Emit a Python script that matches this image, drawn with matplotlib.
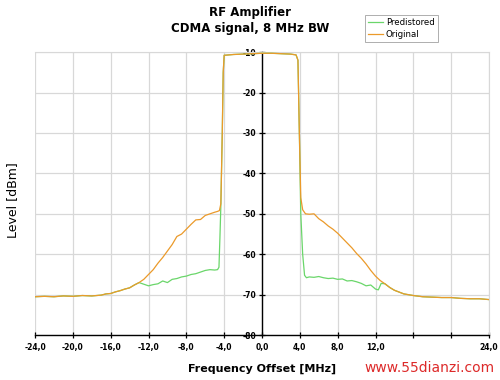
import matplotlib
matplotlib.use("Agg")
import matplotlib.pyplot as plt

plt.rcParams["axes.unicode_minus"] = False

# frequency offset [MHz] / level [dBm]
orig_f = [-24.0, -23.0, -22.0, -21.0, -20.0, -19.0, -18.0, -17.0, -16.5, -16.0,
          -15.5, -15.0, -14.5, -14.0, -13.5, -13.0, -12.5, -12.0, -11.5, -11.0,
          -10.5, -10.0, -9.5, -9.0, -8.5, -8.0, -7.5, -7.0, -6.5, -6.0,
          -5.5, -5.0, -4.7, -4.5, -4.35, -4.2, -4.1, -4.0, -3.0, -2.0,
          -1.0, 0.0, 1.0, 2.0, 3.0, 3.6, 3.8, 3.95, 4.1, 4.3,
          4.6, 5.0, 5.5, 6.0, 6.5, 7.0, 7.5, 8.0, 8.5, 9.0,
          9.5, 10.0, 10.5, 11.0, 11.5, 12.0, 12.5, 13.0, 13.5, 14.0,
          15.0, 16.0, 17.0, 18.0, 19.0, 20.0, 21.0, 22.0, 23.0, 24.0]
orig_db = [-70.5, -70.4, -70.5, -70.3, -70.4, -70.2, -70.3, -70.1, -69.8, -69.7,
           -69.3, -69.0, -68.6, -68.3, -67.6, -67.0, -66.2, -65.0, -63.8, -62.2,
           -60.8, -59.2, -57.6, -55.6, -55.0, -53.8, -52.6, -51.5, -51.4, -50.4,
           -50.0, -49.6, -49.4, -49.2, -47.5, -30.0, -15.0, -10.8, -10.6, -10.5,
           -10.4, -10.3, -10.3, -10.4, -10.5, -10.7, -12.0, -30.0, -46.0, -49.0,
           -50.0, -50.1, -50.0, -51.2, -52.0, -53.0, -53.8, -54.8, -56.0, -57.2,
           -58.4, -59.8, -61.0, -62.4, -64.0, -65.4, -66.5, -67.3, -68.2, -68.9,
           -69.8, -70.2, -70.5, -70.6, -70.7, -70.7, -70.9, -71.0, -71.0, -71.2]

pred_f = [-24.0, -23.0, -22.0, -21.0, -20.0, -19.0, -18.0, -17.0, -16.5, -16.0,
          -15.5, -15.0, -14.5, -14.0, -13.5, -13.0, -12.5, -12.0, -11.5, -11.0,
          -10.5, -10.0, -9.5, -9.0, -8.5, -8.0, -7.5, -7.0, -6.5, -6.0,
          -5.5, -5.0, -4.7, -4.55, -4.45, -4.35, -4.2, -4.1, -4.0, -3.0,
          -2.0, -1.0, 0.0, 1.0, 2.0, 3.0, 3.6, 3.8, 3.95, 4.1,
          4.3, 4.5, 4.7, 5.0, 5.5, 6.0, 6.5, 7.0, 7.5, 8.0,
          8.5, 9.0, 9.5, 10.0, 10.5, 11.0, 11.5, 12.0, 12.3, 12.6,
          13.0, 13.5, 14.0, 15.0, 16.0, 17.0, 18.0, 19.0, 20.0, 21.0,
          22.0, 23.0, 24.0]
pred_db = [-70.5, -70.4, -70.5, -70.3, -70.4, -70.2, -70.3, -70.1, -69.8, -69.7,
           -69.3, -69.0, -68.6, -68.3, -67.6, -67.0, -67.4, -67.8, -67.5, -67.3,
           -66.6, -67.0, -66.2, -66.0, -65.6, -65.4, -65.0, -64.8, -64.4, -64.0,
           -63.8, -63.9, -63.8, -63.2, -56.0, -48.0, -30.0, -15.0, -10.8, -10.6,
           -10.5, -10.4, -10.3, -10.3, -10.4, -10.5, -10.7, -12.0, -30.0, -50.0,
           -60.0, -65.2, -65.8, -65.6, -65.7, -65.5, -65.8, -66.0, -65.9, -66.2,
           -66.1, -66.6, -66.5, -66.8, -67.2, -67.8, -67.6, -68.6, -68.8, -67.2,
           -67.3, -68.2, -68.9, -69.8, -70.2, -70.5, -70.6, -70.7, -70.7, -70.9,
           -71.0, -71.0, -71.2]

x_ticks = [-24, -20, -16, -12, -8, -4, 0, 4, 8, 12, 16, 20, 24]
x_labels = ["-24,0", "-20,0", "-16,0", "-12,0", "-8,0", "-4,0", "0,0",
            "4,0", "8,0", "12,0", "", "", "24,0"]
y_ticks = [-80, -70, -60, -50, -40, -30, -20, -10]

fig = plt.figure(figsize=(5, 3.8), dpi=100)
ax = fig.add_axes([0.07, 0.118, 0.908, 0.745])

ax.plot(pred_f, pred_db, color="#6ad66a", lw=0.9, label="Predistored", zorder=3)
ax.plot(orig_f, orig_db, color="#eb9a2a", lw=0.9, label="Original", zorder=4)

ax.set_xlim(-24, 24)
ax.set_ylim(-80, -10)
ax.set_xticks(x_ticks)
ax.set_xticklabels(x_labels)
ax.set_yticks(y_ticks)
ax.grid(True, color="#d8d8d8", lw=0.9)
ax.set_axisbelow(True)

# y axis runs through 0 MHz
ax.spines["left"].set_position(("data", 0))
ax.spines["left"].set_linewidth(1.0)
ax.spines["bottom"].set_linewidth(1.0)
for s in ("top", "right"):
    ax.spines[s].set_color("#d8d8d8")
ax.tick_params(axis="both", direction="inout", length=4, width=0.9,
               labelsize=5.5, pad=2)
for lab in ax.get_xticklabels() + ax.get_yticklabels():
    lab.set_fontweight("bold")
ax.tick_params(axis="x", pad=4)

ax.set_xlabel("Frequency Offset [MHz]", fontsize=8, fontweight="bold", labelpad=8)
fig.text(0.025, 0.474, "Level [dBm]", rotation=90, fontsize=9,
         va="center", ha="center")
fig.text(0.5, 0.985, "RF Amplifier\nCDMA signal, 8 MHz BW", fontsize=8.5,
         fontweight="bold", ha="center", va="top", linespacing=1.3)

leg = ax.legend(loc="upper left", bbox_to_anchor=(0.717, 1.145), fontsize=6.2,
                frameon=True, fancybox=False, edgecolor="#999999",
                handlelength=1.8, handletextpad=0.3, borderpad=0.35,
                labelspacing=0.3)
leg.get_frame().set_linewidth(0.7)

fig.text(0.99, 0.032, "www.55dianzi.com", color="#dd2a2a", fontsize=10,
         ha="right", va="center")

fig.savefig("out.png", dpi=100)
